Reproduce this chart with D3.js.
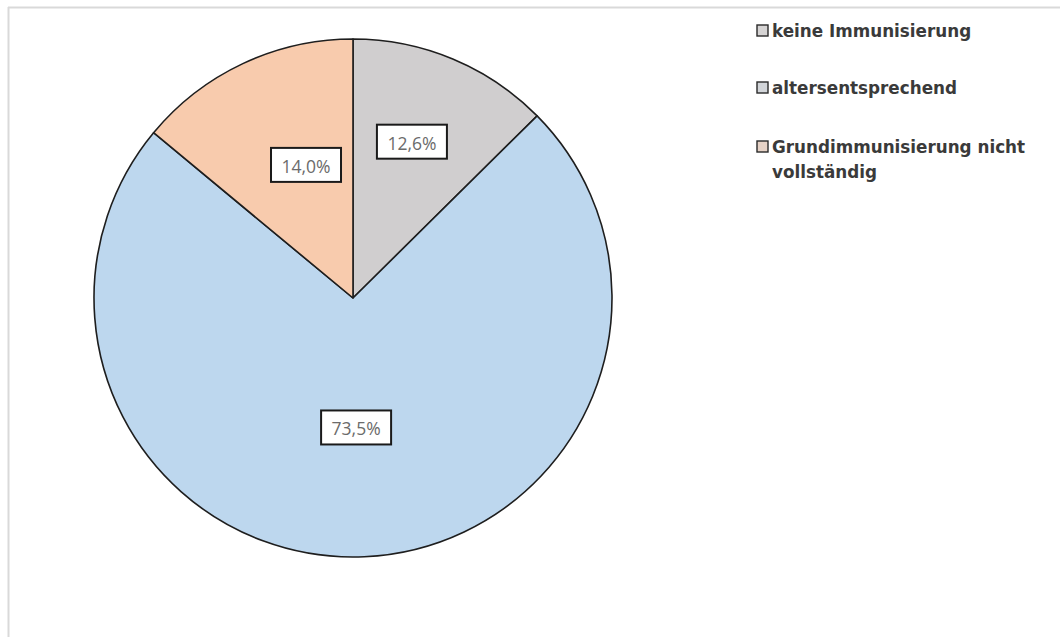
<!DOCTYPE html>
<html>
<head>
<meta charset="utf-8">
<script src="https://cdn.jsdelivr.net/npm/d3@7"></script>
<style>
  html, body { margin: 0; padding: 0; background: #fff; }
  svg { display: block; }
</style>
</head>
<body>
<svg id="chart" width="1060" height="637"></svg>
<script>
// Immunisierungsstatus – Anteile in Prozent
const categories = ["keine Immunisierung", "altersentsprechend", "Grundimmunisierung nicht vollständig"];
const values = [12.6, 73.5, 14.0];
const valueLabels = ["12,6%", "73,5%", "14,0%"];

const sliceColors = ["#d0cecf", "#bdd7ee", "#f8cbad"];
const legendColors = ["#d6d4d4", "#d2d5d9", "#e6d2c6"];

const W = 1060, H = 637;
const cx = 353, cy = 298, R = 259;

const svg = d3.select("#chart");

// thin outer frame of the chart area
svg.append("line").attr("x1", 8).attr("x2", W).attr("y1", 7.5).attr("y2", 7.5)
  .attr("stroke", "#d9d9d9").attr("stroke-width", 2);
svg.append("line").attr("x1", 8.5).attr("x2", 8.5).attr("y1", 7).attr("y2", H)
  .attr("stroke", "#d9d9d9").attr("stroke-width", 2);

const data = categories.map((c, i) => ({ name: c, value: values[i], label: valueLabels[i], color: sliceColors[i] }));

const pie = d3.pie().sort(null).value(d => d.value);
const arc = d3.arc().innerRadius(0).outerRadius(R);
const arcs = pie(data);

const g = svg.append("g").attr("transform", `translate(${cx},${cy})`);

g.selectAll("path.slice")
  .data(arcs)
  .join("path")
  .attr("class", "slice")
  .attr("d", arc)
  .attr("fill", d => d.data.color)
  .attr("stroke", "#1e1e1e")
  .attr("stroke-width", 1.6)
  .attr("stroke-linejoin", "round");

// data labels: radius factor along each slice's bisector
const labelRadius = [0.645, 0.50, 0.545];
const labelAngleShift = [-0.035, 0.02, 0.1];
const boxW = 70, boxH = 34;

arcs.forEach((a, i) => {
  const ang = (a.startAngle + a.endAngle) / 2 + labelAngleShift[i];
  const r = R * labelRadius[i];
  const x = Math.sin(ang) * r;
  const y = -Math.cos(ang) * r;
  const lg = g.append("g").attr("transform", `translate(${x},${y})`);
  lg.append("rect")
    .attr("x", -boxW / 2).attr("y", -boxH / 2)
    .attr("width", boxW).attr("height", boxH)
    .attr("fill", "#ffffff")
    .attr("stroke", "#1a1a1a")
    .attr("stroke-width", 2);
  lg.append("text")
    .attr("text-anchor", "middle")
    .attr("dominant-baseline", "central")
    .attr("y", 1)
    .attr("font-family", "'Open Sans', 'Liberation Sans', sans-serif")
    .attr("font-size", 17.5)
    .attr("fill", "#6b6b6b")
    .text(a.data.label);
});

// legend
const legendX = 757;
const legendY = [31, 88, 147];
const legend = svg.append("g");
categories.forEach((c, i) => {
  const item = legend.append("g").attr("transform", `translate(${legendX},${legendY[i]})`);
  item.append("rect")
    .attr("x", 0).attr("y", -6)
    .attr("width", 11).attr("height", 11)
    .attr("fill", legendColors[i])
    .attr("stroke", "#2a2a2a")
    .attr("stroke-width", 1.4);
  const words = i === 2 ? ["Grundimmunisierung nicht", "vollständig"] : [c];
  const t = item.append("text")
    .attr("x", 15)
    .attr("font-family", "'DejaVu Sans', 'Open Sans', sans-serif")
    .attr("font-weight", "bold")
    .attr("font-size", 16.8)
    .attr("fill", "#3a3a3a");
  words.forEach((w, j) => {
    t.append("tspan")
      .attr("x", 15)
      .attr("y", j * 25)
      .attr("dominant-baseline", "central")
      .text(w);
  });
});
</script>
</body>
</html>
